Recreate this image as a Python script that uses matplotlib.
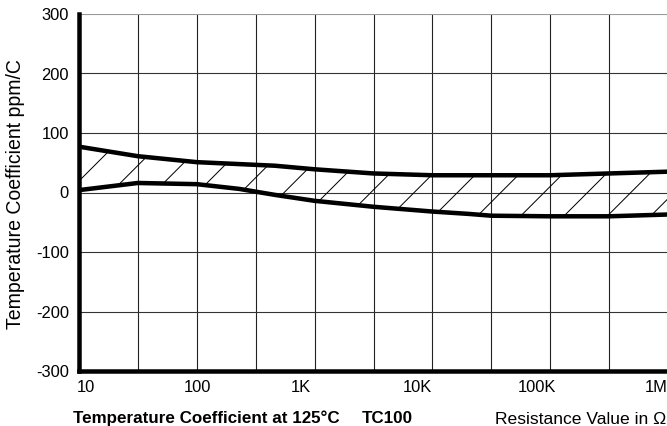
import numpy as np
import matplotlib
matplotlib.use('Agg')
import matplotlib.pyplot as plt
from matplotlib.transforms import ScaledTranslation

# Valores
resistencia_sup = [10, 31.6, 100, 460, 1000, 3160, 10000, 31600, 100000, 316000, 1000000]
tc_sup = [77, 61, 51, 45, 39, 32, 29, 29, 29, 32, 35]

resistencia_inf = [10, 31.6, 100, 230, 460, 1000, 3160, 10000, 20400, 31600, 100000, 316000, 1000000]
tc_inf = [4, 16, 14, 6, -4, -14, -24, -32, -36, -39, -40, -40, -37]

xticks = [10, 100, 1000, 10000, 100000, 1000000]
xtick_labels = ['10', '100', '1K', '10K', '100K', '1M']
yticks = [-300, -200, -100, 0, 100, 200, 300]

# dpi alto para que el rayado quede tan espaciado como en el original
DPI = 130
W, H = 667, 426

def pt(px):
    return px * 72.0 / DPI

plt.rcParams['font.family'] = ['Liberation Sans', 'DejaVu Sans']
plt.rcParams['hatch.linewidth'] = pt(1.0)

fig = plt.figure(figsize=(W / DPI, H / DPI), dpi=DPI)
ax = fig.add_axes([79 / W, 1 - 371 / H, 589 / W, 357 / H])

ax.set_xscale('log')
ax.set_xlim(10, 1e6)
ax.set_ylim(-300, 300)

# rejilla: decadas y medias decadas
for xv in 10 ** np.arange(1.0, 6.01, 0.5):
    ax.axvline(xv, color='#222222', lw=pt(1.1), zorder=1)
for yv in yticks:
    c = '#999999' if yv == 300 else '#333333'
    ax.axhline(yv, color=c, lw=pt(1.1), zorder=1)

# banda rayada entre las dos curvas
x_comun = sorted(set(resistencia_sup) | set(resistencia_inf))
sup_c = np.interp(np.log10(x_comun), np.log10(resistencia_sup), tc_sup)
inf_c = np.interp(np.log10(x_comun), np.log10(resistencia_inf), tc_inf)
ax.fill_between(x_comun, inf_c, sup_c, facecolor='none', edgecolor='black',
                hatch='/', linewidth=0, zorder=2)

ax.plot(resistencia_sup, tc_sup, color='black', lw=pt(4.5), zorder=4, solid_capstyle='butt')
ax.plot(resistencia_inf, tc_inf, color='black', lw=pt(4.5), zorder=4, solid_capstyle='butt')

for s in ['top', 'right']:
    ax.spines[s].set_visible(False)
ax.spines['left'].set_linewidth(pt(4.5))
ax.spines['bottom'].set_linewidth(pt(4.5))

fs = pt(16.5)
ax.set_yticks(yticks)
ax.set_yticklabels([str(v) for v in yticks], fontsize=fs)
ax.set_xticks(xticks)
ax.set_xticklabels(xtick_labels, fontsize=fs)
ax.xaxis.set_minor_locator(matplotlib.ticker.NullLocator())
ax.tick_params(axis='y', length=0, pad=pt(10))
ax.tick_params(axis='x', length=0, pad=pt(9))

# desplazamientos de las etiquetas del eje x (px)
desplaz = [-2, 1, -14, -15, -13, 0]
lbls = ax.get_xticklabels()
for lab, d in zip(lbls, desplaz):
    lab.set_transform(lab.get_transform() + ScaledTranslation(d / DPI, 0, fig.dpi_scale_trans))
lbls[0].set_horizontalalignment('left')
lbls[-1].set_horizontalalignment('right')

fig.text(16 / W, 1 - 194 / H, 'Temperature Coefficient ppm/C', fontsize=pt(19.5),
         rotation=90, ha='center', va='center')

fig.text(73 / W, 1 - 423 / H, 'Temperature Coefficient at 125°C', fontsize=pt(17),
         fontweight='bold', ha='left', va='baseline')
fig.text(362 / W, 1 - 423 / H, 'TC100', fontsize=pt(17),
         fontweight='bold', ha='left', va='baseline')
fig.text(666 / W, 1 - 424 / H, 'Resistance Value in Ω', fontsize=pt(17.5),
         ha='right', va='baseline')

fig.savefig('out.png', dpi=DPI)
